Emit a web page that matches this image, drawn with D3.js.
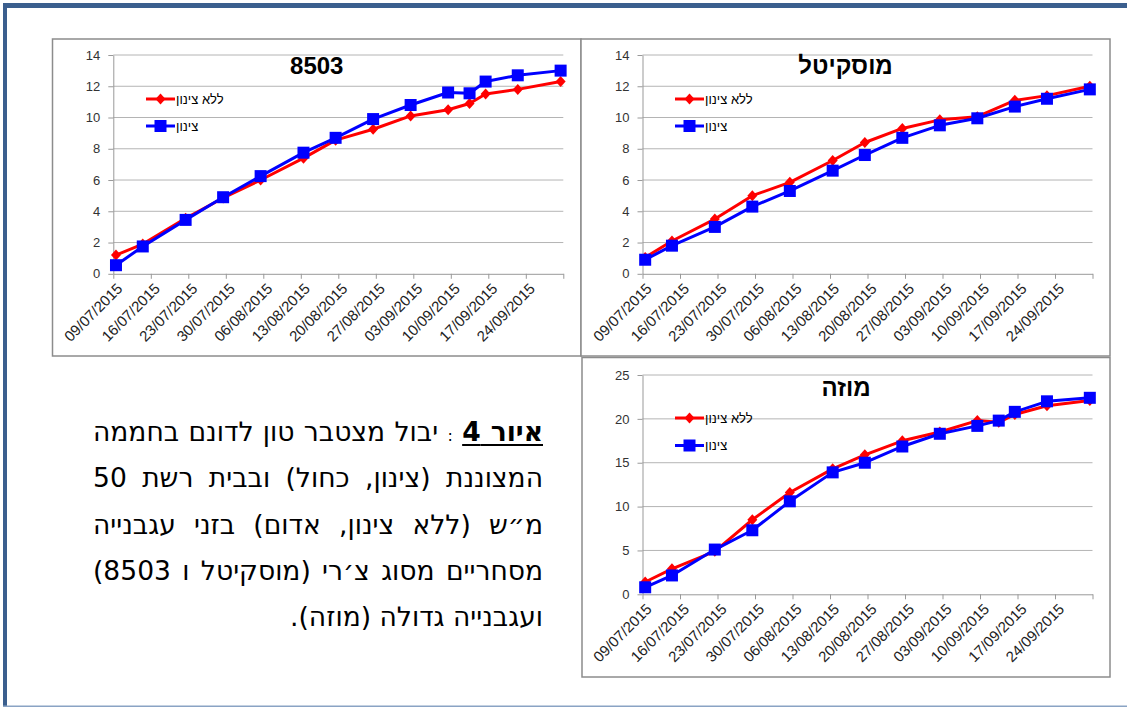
<!DOCTYPE html>
<html lang="he">
<head>
<meta charset="utf-8">
<script src="https://cdn.jsdelivr.net/npm/d3@7"></script>
<style>
  body { margin: 0; background: #fff; width: 1127px; height: 709px; overflow: hidden; position: relative;
         font-family: "Liberation Sans", Arial, sans-serif; }
  svg { position: absolute; left: 0; top: 0; }
  .caption { position: absolute; direction: rtl; color: #000; font-family: "DejaVu Sans", sans-serif; }
  .caption .row { white-space: nowrap; text-align: right; }
  .caption .lead { font-weight: bold; text-decoration: underline; text-underline-offset: 3px; }
  .caption .sep { font-size: 60%; }
</style>
</head>
<body>
<script>
// ---- data -------------------------------------------------------------
const axisTickLabels = ["09/07/2015", "16/07/2015", "23/07/2015", "30/07/2015", "06/08/2015", "13/08/2015",
                        "20/08/2015", "27/08/2015", "03/09/2015", "10/09/2015", "17/09/2015", "24/09/2015"];
const axisEnd = "01/10/2015";

const seriesNames = ["ללא צינון", "צינון"];

// 8503
const dates8503 = ["09/07/2015", "14/07/2015", "22/07/2015", "29/07/2015", "05/08/2015", "13/08/2015", "19/08/2015",
                   "26/08/2015", "02/09/2015", "09/09/2015", "13/09/2015", "16/09/2015", "22/09/2015", "30/09/2015"];
const uncooled8503 = [1.2, 1.9, 3.55, 4.85, 6.0, 7.4, 8.55, 9.25, 10.1, 10.5, 10.9, 11.5, 11.8, 12.3];
const cooled8503   = [0.55, 1.75, 3.45, 4.9, 6.25, 7.75, 8.7, 9.9, 10.8, 11.6, 11.55, 12.3, 12.7, 13.0];

// מוסקיטל
const datesMuskitel = ["09/07/2015", "14/07/2015", "22/07/2015", "29/07/2015", "05/08/2015", "13/08/2015", "19/08/2015",
                       "26/08/2015", "02/09/2015", "09/09/2015", "16/09/2015", "22/09/2015", "30/09/2015"];
const uncooledMuskitel = [1.05, 2.1, 3.5, 5.0, 5.85, 7.25, 8.4, 9.3, 9.85, 10.05, 11.1, 11.4, 12.0];
const cooledMuskitel   = [0.9, 1.8, 3.0, 4.3, 5.3, 6.6, 7.6, 8.7, 9.5, 9.95, 10.7, 11.2, 11.8];

// מוזה
const datesMuza = dates8503;
const uncooledMuza = [1.4, 2.9, 4.9, 8.5, 11.6, 14.3, 15.9, 17.5, 18.5, 19.8, 19.6, 20.5, 21.5, 22.1];
const cooledMuza   = [0.8, 2.15, 5.1, 7.3, 10.6, 13.9, 15.0, 16.85, 18.3, 19.2, 19.8, 20.8, 22.0, 22.4];

const panelTitles = ["8503", "מוסקיטל", "מוזה"];
const yMaxes = [14, 14, 25];
const ySteps = [2, 2, 5];

const captionLead = "איור 4";
const captionSep = ":";
const captionLines = [
  "יבול מצטבר טון לדונם בחממה",
  "המצוננת (צינון, כחול) ובבית רשת 50",
  "מ״ש (ללא צינון, אדום) בזני עגבנייה",
  "מסחריים מסוג צ׳רי (מוסקיטל ו 8503)",
  "ועגבנייה גדולה (מוזה)."
];

// ---- drawing ----------------------------------------------------------
const W = 1127, H = 709;
const parse = d3.utcParse("%d/%m/%Y");
const colors = ["#ff0000", "#0000ff"];

const svg = d3.select("body").append("svg").attr("width", W).attr("height", H);

// page frame
svg.append("rect").attr("x", 3).attr("y", 3).attr("width", W - 3).attr("height", 5).attr("fill", "#3b5f8e");
svg.append("rect").attr("x", 3).attr("y", 3).attr("width", 4).attr("height", 704).attr("fill", "#3b5f8e");
svg.append("rect").attr("x", 3).attr("y", 705.5).attr("width", W - 3).attr("height", 1.5).attr("fill", "#8aa3c4");

const panels = [
  { box: [52.5, 39, 581, 356], plot: [113.3, 563.3, 273.8, 55], legend: [146, 175, 99, 126],
    title: panelTitles[0], titleY: 74, yMax: yMaxes[0], yStep: ySteps[0],
    dates: dates8503, series: [uncooled8503, cooled8503] },
  { box: [581, 39, 1110, 356], plot: [642.5, 1092.5, 273.8, 55], legend: [675, 704, 99, 126],
    title: panelTitles[1], titleY: 74, yMax: yMaxes[1], yStep: ySteps[1],
    dates: datesMuskitel, series: [uncooledMuskitel, cooledMuskitel] },
  { box: [582, 357.5, 1110, 677], plot: [642.5, 1092.5, 594.3, 375], legend: [675, 704, 418, 445.5],
    title: panelTitles[2], titleY: 396, yMax: yMaxes[2], yStep: ySteps[2],
    dates: datesMuza, series: [uncooledMuza, cooledMuza] }
];

const tickDates = axisTickLabels.map(parse).concat([parse(axisEnd)]);
const fmt = d3.utcFormat("%d/%m/%Y");
const halfDay = d => d3.utcHour.offset(d, 12);   // each day is a slot; points sit mid-slot

function marker(sel, i, cx, cy) {
  if (i === 0) {
    sel.append("path").attr("d", "M0,-5.5L5,0L0,5.5L-5,0Z")
      .attr("transform", `translate(${cx},${cy})`).attr("fill", colors[0]);
  } else {
    sel.append("rect").attr("x", cx - 6).attr("y", cy - 6).attr("width", 12).attr("height", 12)
      .attr("fill", colors[1]);
  }
}

panels.forEach(p => {
  const g = svg.append("g");
  const [bx0, by0, bx1, by1] = p.box;
  g.append("rect").attr("x", bx0).attr("y", by0).attr("width", bx1 - bx0).attr("height", by1 - by0)
    .attr("fill", "#fff").attr("stroke", "#8c8c8c").attr("stroke-width", 1.5);

  const [px0, px1, py0, py1] = p.plot;
  const x = d3.scaleUtc().domain([tickDates[0], tickDates[tickDates.length - 1]]).range([px0, px1]);
  const y = d3.scaleLinear().domain([0, p.yMax]).range([py0, py1]);
  const yTicks = d3.range(0, p.yMax + 1e-9, p.yStep);

  // horizontal gridlines
  g.append("g").selectAll("line").data(yTicks.filter(v => v > 0)).join("line")
    .attr("x1", px0).attr("x2", px1).attr("y1", d => y(d)).attr("y2", d => y(d))
    .attr("stroke", "#b4b4b4").attr("stroke-width", 1);

  // y axis
  const ya = g.append("g").attr("transform", `translate(${px0},0)`)
    .call(d3.axisLeft(y).tickValues(yTicks).tickSize(5).tickSizeOuter(0).tickPadding(8));
  ya.select(".domain").attr("stroke", "#999");
  ya.selectAll(".tick line").attr("stroke", "#999");
  ya.selectAll("text").attr("font-size", 13).attr("fill", "#333")
    .attr("font-family", '"Liberation Sans", Arial, sans-serif');

  // x axis (weekly ticks on a daily date axis)
  const xa = g.append("g").attr("transform", `translate(0,${py0})`)
    .call(d3.axisBottom(x).tickValues(tickDates).tickSize(5).tickSizeOuter(0)
      .tickFormat(d => axisTickLabels.includes(fmt(d)) ? fmt(d) : ""));
  xa.select(".domain").attr("stroke", "#999");
  xa.selectAll(".tick line").attr("stroke", "#999");
  xa.selectAll("text").attr("font-size", 15).attr("fill", "#222")
    .attr("font-family", '"Liberation Sans", Arial, sans-serif')
    .attr("x", 0).attr("y", 0).attr("dy", "0.35em")
    .attr("text-anchor", "end").attr("transform", "translate(6,12) rotate(-45)");

  // series: uncooled first, cooled drawn on top
  p.series.forEach((vals, i) => {
    const pts = vals.map((v, k) => ({ d: parse(p.dates[k]), v }));
    g.append("path").datum(pts)
      .attr("d", d3.line().x(d => x(halfDay(d.d))).y(d => y(d.v)))
      .attr("fill", "none").attr("stroke", colors[i]).attr("stroke-width", 3).attr("stroke-linejoin", "round");
    const mg = g.append("g");
    pts.forEach(d => marker(mg, i, x(halfDay(d.d)), y(d.v)));
  });

  // legend
  const [lx0, lx1, ly0, ly1] = p.legend;
  [ly0, ly1].forEach((ly, i) => {
    g.append("line").attr("x1", lx0).attr("x2", lx1).attr("y1", ly).attr("y2", ly)
      .attr("stroke", colors[i]).attr("stroke-width", 3);
    marker(g, i, (lx0 + lx1) / 2, ly);
    g.append("text").attr("x", lx1 + 1).attr("y", ly).attr("dy", "0.35em")
      .attr("font-size", 13).attr("fill", "#000")
      .attr("font-family", '"Liberation Sans", Arial, sans-serif')
      .text(seriesNames[i]);
  });

  // title
  g.append("text").attr("x", (bx0 + bx1) / 2).attr("y", p.titleY).attr("text-anchor", "middle")
    .attr("font-size", 24).attr("font-weight", "bold").attr("fill", "#000")
    .attr("font-family", '"Liberation Sans", Arial, sans-serif')
    .text(p.title);
});

// ---- caption (justified RTL lines) --------------------------------------
const capWidth = 450, capRight = 543, capTop = 409, capLine = 46.3, lastLineWidth = 253;
const cap = d3.select("body").append("div").attr("class", "caption")
  .style("left", (capRight - capWidth) + "px").style("top", capTop + "px")
  .style("width", capWidth + "px").style("font-size", "20px");

const rows = captionLines.map((txt, i) => {
  const row = cap.append("div").attr("class", "row")
    .style("height", capLine + "px").style("line-height", capLine + "px");
  const inner = row.append("span");
  if (i === 0) {
    inner.append("span").attr("class", "lead").text(captionLead);
    inner.append("span").text(" ");
    inner.append("span").attr("class", "sep").text(captionSep);
    inner.append("span").text(" " + txt);
  } else {
    inner.text(txt);
  }
  return inner;
});

// size the type so the closing (unjustified) line spans its measure, then justify the rest
const lastNatural = rows[rows.length - 1].node().getBoundingClientRect().width;
cap.style("font-size", (20 * lastLineWidth / lastNatural) + "px");
rows.forEach((inner, i) => {
  if (i === rows.length - 1) return;
  const natural = inner.node().getBoundingClientRect().width;
  const spaces = (inner.text().match(/ /g) || []).length;
  if (spaces > 0) inner.style("word-spacing", ((capWidth - natural) / spaces) + "px");
});
</script>
</body>
</html>
